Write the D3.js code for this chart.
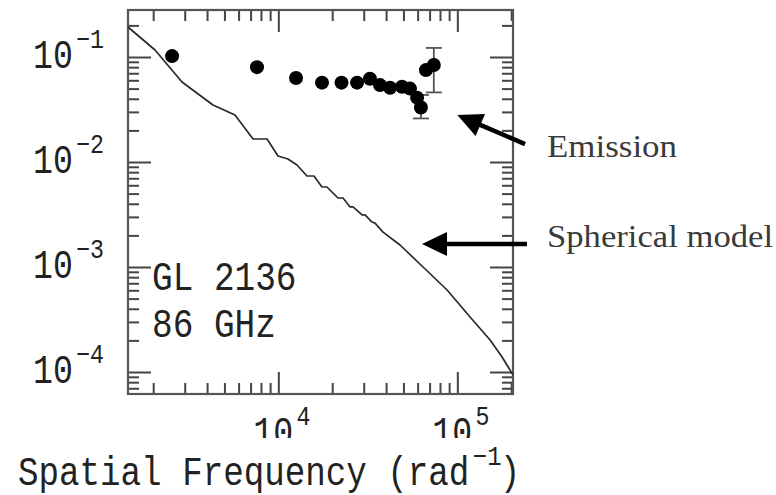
<!DOCTYPE html>
<html><head><meta charset="utf-8">
<script src="https://cdn.jsdelivr.net/npm/d3@7"></script>
<style>
html,body{margin:0;padding:0;background:#fff;}
svg{display:block;}
.mono{font-family:"Liberation Mono","Courier New",Cousine,"DejaVu Sans Mono",monospace;}
.serif{font-family:"Liberation Serif","Times New Roman",Tinos,serif;}
</style></head>
<body>
<svg id="chart" width="776" height="495"></svg>
<script>
// ---- data ----
const emissionX = [2550, 7600, 12560, 17540, 22540, 27540, 32500, 37000, 42100, 49100, 54400, 59600, 62600, 66800, 73900];
const emissionY = [0.102, 0.080, 0.063, 0.057, 0.057, 0.057, 0.062, 0.054, 0.051, 0.052, 0.050, 0.041, 0.033, 0.075, 0.084];
const errX = [62600, 73900];
const errLow = [0.026, 0.046];
const errHigh = [0.0435, 0.122];
const modelX = [1446, 2047, 2897, 4315, 5728, 7226, 8652, 9960, 11320, 12710, 14460, 15820, 17530, 18700, 21540, 22980, 25170, 26140, 29370, 30500, 33370, 34690, 38450, 47860, 64330, 87650, 117800, 152400, 177900, 204800];
const modelY = [0.193, 0.1166, 0.0578, 0.0349, 0.0280, 0.01656, 0.01656, 0.0114, 0.01068, 0.00936, 0.00736, 0.00736, 0.00578, 0.00578, 0.00454, 0.00454, 0.00373, 0.00373, 0.00313, 0.00313, 0.00268, 0.00262, 0.00215, 0.00162, 0.00100, 0.000604, 0.000334, 0.000202, 0.000139, 0.0000935];
const xMajorTicks = [1e4, 1e5];
const xTickExps = ["4", "5"];
const yMajorTicks = [1e-1, 1e-2, 1e-3, 1e-4];
const yTickExps = ["\u22121", "\u22122", "\u22123", "\u22124"];
const xLabelText = "Spatial Frequency (rad";
const xLabelExp = "\u22121";
const sourceLines = ["GL 2136", "86 GHz"];
const annotations = ["Emission", "Spherical model"];
// arrow tails / tips in data space
const arrowTailX = [239000, 245000], arrowTailY = [0.0148, 0.00166];
const arrowTipX = [100000, 63500], arrowTipY = [0.028, 0.00166];

// ---- layout ----
const L = 128, R = 513, T = 10, B = 394;
const svg = d3.select("#chart");
const x = d3.scaleLog().domain([Math.pow(10, 3.1603), Math.pow(10, 5.311)]).range([L, R]);
const y = d3.scaleLog().domain([Math.pow(10, -4.2095), Math.pow(10, -0.5524)]).range([B, T]);

function minors(decades, dom) {
  const out = [];
  decades.forEach(d => { for (let m = 2; m <= 9; m++) { const v = m * d; if (v >= dom[0] && v <= dom[1]) out.push(v); } });
  return out;
}
const xMinor = minors([1e3, 1e4, 1e5], x.domain());
const yMinor = minors([1e-5, 1e-4, 1e-3, 1e-2, 1e-1], y.domain());

const tickColor = "#444";
function drawAxis(axisGen, transform, values, size) {
  const g = svg.append("g").attr("transform", transform)
    .call(axisGen.tickValues(values).tickSize(size).tickSizeOuter(0).tickFormat(""));
  g.select(".domain").remove();
  g.selectAll(".tick line").attr("stroke", tickColor).attr("stroke-width", 2);
}
drawAxis(d3.axisRight(y), `translate(${L},0)`, yMajorTicks, 23);
drawAxis(d3.axisRight(y), `translate(${L},0)`, yMinor, 11);
drawAxis(d3.axisLeft(y), `translate(${R},0)`, yMajorTicks, 23);
drawAxis(d3.axisLeft(y), `translate(${R},0)`, yMinor, 11);
drawAxis(d3.axisTop(x), `translate(0,${B})`, xMajorTicks, 22);
drawAxis(d3.axisTop(x), `translate(0,${B})`, xMinor, 11);
drawAxis(d3.axisBottom(x), `translate(0,${T})`, xMajorTicks, 22);
drawAxis(d3.axisBottom(x), `translate(0,${T})`, xMinor, 11);

svg.append("rect").attr("x", L).attr("y", T).attr("width", R - L).attr("height", B - T)
  .attr("fill", "none").attr("stroke", "#555").attr("stroke-width", 2.2);

// text with optional superscript, horizontally compressed
function monoText(sel, xx, yy, main, sup, tail, sx) {
  const t = sel.append("text").attr("class", "mono")
    .attr("transform", `translate(${xx},${yy}) scale(${sx || 0.83},1)`)
    .attr("font-size", 40).attr("fill", "#222");
  t.append("tspan").text(main);
  if (sup) t.append("tspan").attr("font-size", 28).attr("dx", 4).attr("dy", -20).text(sup);
  if (tail) t.append("tspan").attr("font-size", 40).attr("dx", -2).attr("dy", 20).text(tail);
  return t;
}

yMajorTicks.forEach((v, i) => monoText(svg, 33, y(v) + 11, "10", yTickExps[i]));

svg.append("clipPath").attr("id", "xlabclip").append("rect")
  .attr("x", 0).attr("y", 395).attr("width", 776).attr("height", 43);
const xl = svg.append("g").attr("clip-path", "url(#xlabclip)");
xMajorTicks.forEach((v, i) => monoText(xl, x(v) - 25, 445, "10", xTickExps[i]));

monoText(svg, 18, 485, xLabelText, xLabelExp, ")", 0.855);

monoText(svg, 152, 290, sourceLines[0], null, null, 0.86);
monoText(svg, 152, 337, sourceLines[1], null, null, 0.86);

// model curve
const modelData = modelX.map((v, i) => [v, modelY[i]]);
svg.append("path").datum(modelData)
  .attr("d", d3.line().x(d => x(d[0])).y(d => y(d[1])))
  .attr("fill", "none").attr("stroke", "#2a2a2a").attr("stroke-width", 1.7).attr("stroke-linejoin", "round");

// error bars
errX.forEach((v, i) => {
  const ex = x(v), y1 = y(errLow[i]), y2 = y(errHigh[i]);
  const g = svg.append("g").attr("stroke", "#555").attr("stroke-width", 1.8);
  g.append("line").attr("x1", ex).attr("x2", ex).attr("y1", y1).attr("y2", y2);
  g.append("line").attr("x1", ex - 8).attr("x2", ex + 8).attr("y1", y1).attr("y2", y1);
  g.append("line").attr("x1", ex - 8).attr("x2", ex + 8).attr("y1", y2).attr("y2", y2);
});

svg.append("g").selectAll("circle").data(emissionX.map((v, i) => [v, emissionY[i]]))
  .join("circle").attr("cx", d => x(d[0])).attr("cy", d => y(d[1])).attr("r", 7).attr("fill", "#000");

arrowTailX.forEach((v, i) => {
  const x0 = x(v), y0 = y(arrowTailY[i]), x1 = x(arrowTipX[i]), y1 = y(arrowTipY[i]);
  const dx = x1 - x0, dy = y1 - y0, len = Math.hypot(dx, dy);
  const ux = dx / len, uy = dy / len, hl = 25, hw = 12;
  const bx = x1 - ux * hl, by = y1 - uy * hl;
  svg.append("line").attr("x1", x0).attr("y1", y0).attr("x2", bx + ux * 2).attr("y2", by + uy * 2)
    .attr("stroke", "#000").attr("stroke-width", 4.5);
  svg.append("path").attr("d", `M${x1},${y1}L${bx - uy * hw},${by + ux * hw}L${bx + uy * hw},${by - ux * hw}Z`)
    .attr("fill", "#000");
});

svg.append("text").attr("class", "serif").attr("x", 547).attr("y", 157).attr("font-size", 32)
  .attr("fill", "#3a3a3a").attr("textLength", 130).attr("lengthAdjust", "spacingAndGlyphs").text(annotations[0]);
svg.append("text").attr("class", "serif").attr("x", 547).attr("y", 247).attr("font-size", 32)
  .attr("fill", "#3a3a3a").attr("textLength", 226).attr("lengthAdjust", "spacingAndGlyphs").text(annotations[1]);
</script>
</body></html>
